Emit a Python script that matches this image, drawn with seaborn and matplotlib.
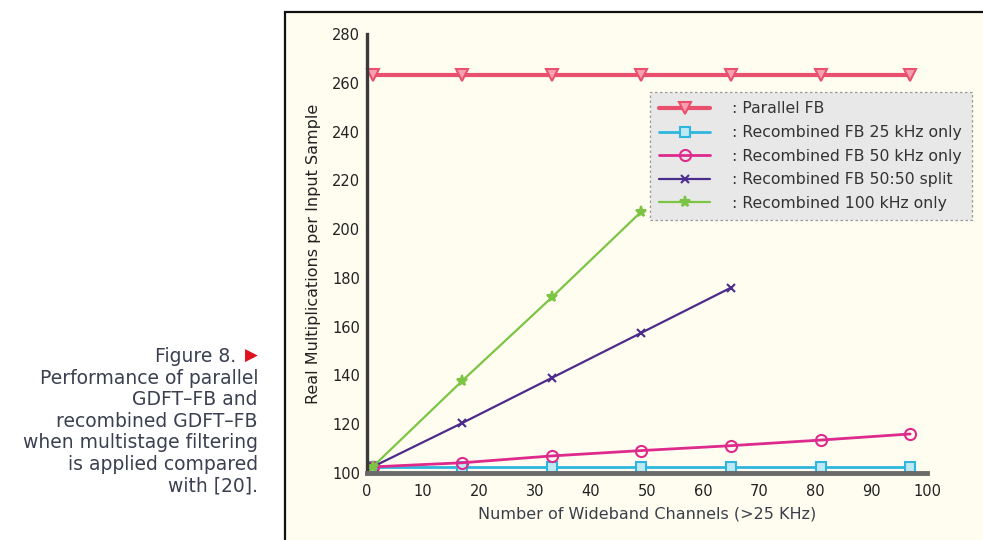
import matplotlib
matplotlib.use("Agg")
import matplotlib.pyplot as plt
from matplotlib.patches import Rectangle
import seaborn as sns
import pandas as pd

# Number of wideband channels (>25 kHz)
channels = [1, 17, 33, 49, 65, 81, 97]

parallel_fb = [263, 263, 263, 263, 263, 263, 263]
recomb_25k = [102.5, 102.5, 102.5, 102.5, 102.5, 102.5, 102.5]
recomb_50k = [102.5, 104.2, 107.0, 109.2, 111.2, 113.5, 116.0]
channels_split = [1, 17, 33, 49, 65]
recomb_split = [102.5, 120.5, 139.0, 157.5, 176.0]
channels_100k = [1, 17, 33, 49]
recomb_100k = [102.5, 137.8, 172.0, 207.2]

series_labels = [
    ": Parallel FB",
    ": Recombined FB 25 kHz only",
    ": Recombined FB 50 kHz only",
    ": Recombined FB 50:50 split",
    ": Recombined 100 kHz only",
]

x_ticks = list(range(0, 101, 10))
y_ticks = list(range(100, 281, 20))

caption_lines = [
    "Performance of parallel",
    "GDFT\u2013FB and",
    "recombined GDFT\u2013FB",
    "when multistage filtering",
    "is applied compared",
    "with [20].",
]

sns.set_theme(style="white")
plt.rcParams["font.family"] = ["DejaVu Sans"]

W, H = 983, 540
fig = plt.figure(figsize=(W / 100, H / 100), dpi=100, facecolor="white")

cream = "#fffdf0"
# framed panel behind the plot
bg = fig.add_axes([0, 0, 1, 1], zorder=0)
bg.set_axis_off()
bg.set_xlim(0, W)
bg.set_ylim(H, 0)
bg.add_patch(Rectangle((285, 12), W, H, facecolor=cream,
                       edgecolor="#111111", linewidth=1.6))

ax = fig.add_axes([367 / W, 67 / H, (927 - 367) / W, (473 - 34) / H], zorder=2)
ax.set_facecolor("none")

styles = [
    (channels, parallel_fb, "#e8506e", "v", 3.0, 9, "#f7a0b0"),
    (channels, recomb_25k, "#2fb6de", "s", 2.0, 7, "#bfe8f5"),
    (channels, recomb_50k, "#dd2a8c", "o", 2.0, 8, "none"),
    (channels_split, recomb_split, "#4b2c8c", "x", 1.6, 6, "none"),
    (channels_100k, recomb_100k, "#7cc544", "*", 1.6, 8, "#7cc544"),
]

for (xs, ys, col, mk, lw, ms, mfc), lab in zip(styles, series_labels):
    df = pd.DataFrame({"x": xs, "y": ys})
    sns.lineplot(data=df, x="x", y="y", ax=ax, color=col, marker=mk,
                 linewidth=lw, markersize=ms, markerfacecolor=mfc,
                 markeredgecolor=col, markeredgewidth=1.5, label=lab,
                 clip_on=False)

ax.set_xlim(0, 100)
ax.set_ylim(100, 280)
ax.set_xticks(x_ticks)
ax.set_yticks(y_ticks)
ax.tick_params(axis="both", direction="in", length=8, width=1.6,
               colors="#222222", labelsize=10.5, pad=5)
ax.tick_params(axis="x", pad=8)
for s in ("top", "right"):
    ax.spines[s].set_visible(False)
ax.spines["left"].set_color("#3a3a3a")
ax.spines["left"].set_linewidth(2.4)
ax.spines["bottom"].set_color("#6a6a6a")
ax.spines["bottom"].set_linewidth(3.5)

ax.set_xlabel("Number of Wideband Channels (>25 KHz)", fontsize=11.5,
              color="#3a3f4a", labelpad=5)
ax.set_ylabel("Real Multiplications per Input Sample", fontsize=11.5,
              color="#222222", labelpad=8)

leg = ax.legend(loc="upper left", bbox_to_anchor=(650 / W, 1 - 92 / H),
                bbox_transform=fig.transFigure, borderaxespad=0,
                fontsize=11.3, frameon=True,
                handlelength=3.2, handletextpad=1.45, labelspacing=0.55,
                borderpad=0.6, fancybox=False, labelcolor="#333333")
frame = leg.get_frame()
frame.set_facecolor("#e8e8e8")
frame.set_edgecolor("#999999")
frame.set_linestyle((0, (2, 2)))
frame.set_linewidth(0.9)
frame.set_alpha(1.0)

# caption at the left
cap_x = 258
cap_font = ["DejaVu Sans"]
bg.text(cap_x - 22, 356, "Figure 8.", ha="right", va="center",
        fontsize=13.5, color="#3a4050", family=cap_font)
bg.text(cap_x, 356, "\u25B6", ha="right", va="center",
        fontsize=12, color="#e0101e", family=["DejaVu Sans"])
for i, line in enumerate(caption_lines):
    bg.text(cap_x, 378 + i * 21.6, line, ha="right", va="center",
            fontsize=13.5, color="#3a4050", family=cap_font)

fig.savefig("out.png", dpi=100, facecolor="white")
